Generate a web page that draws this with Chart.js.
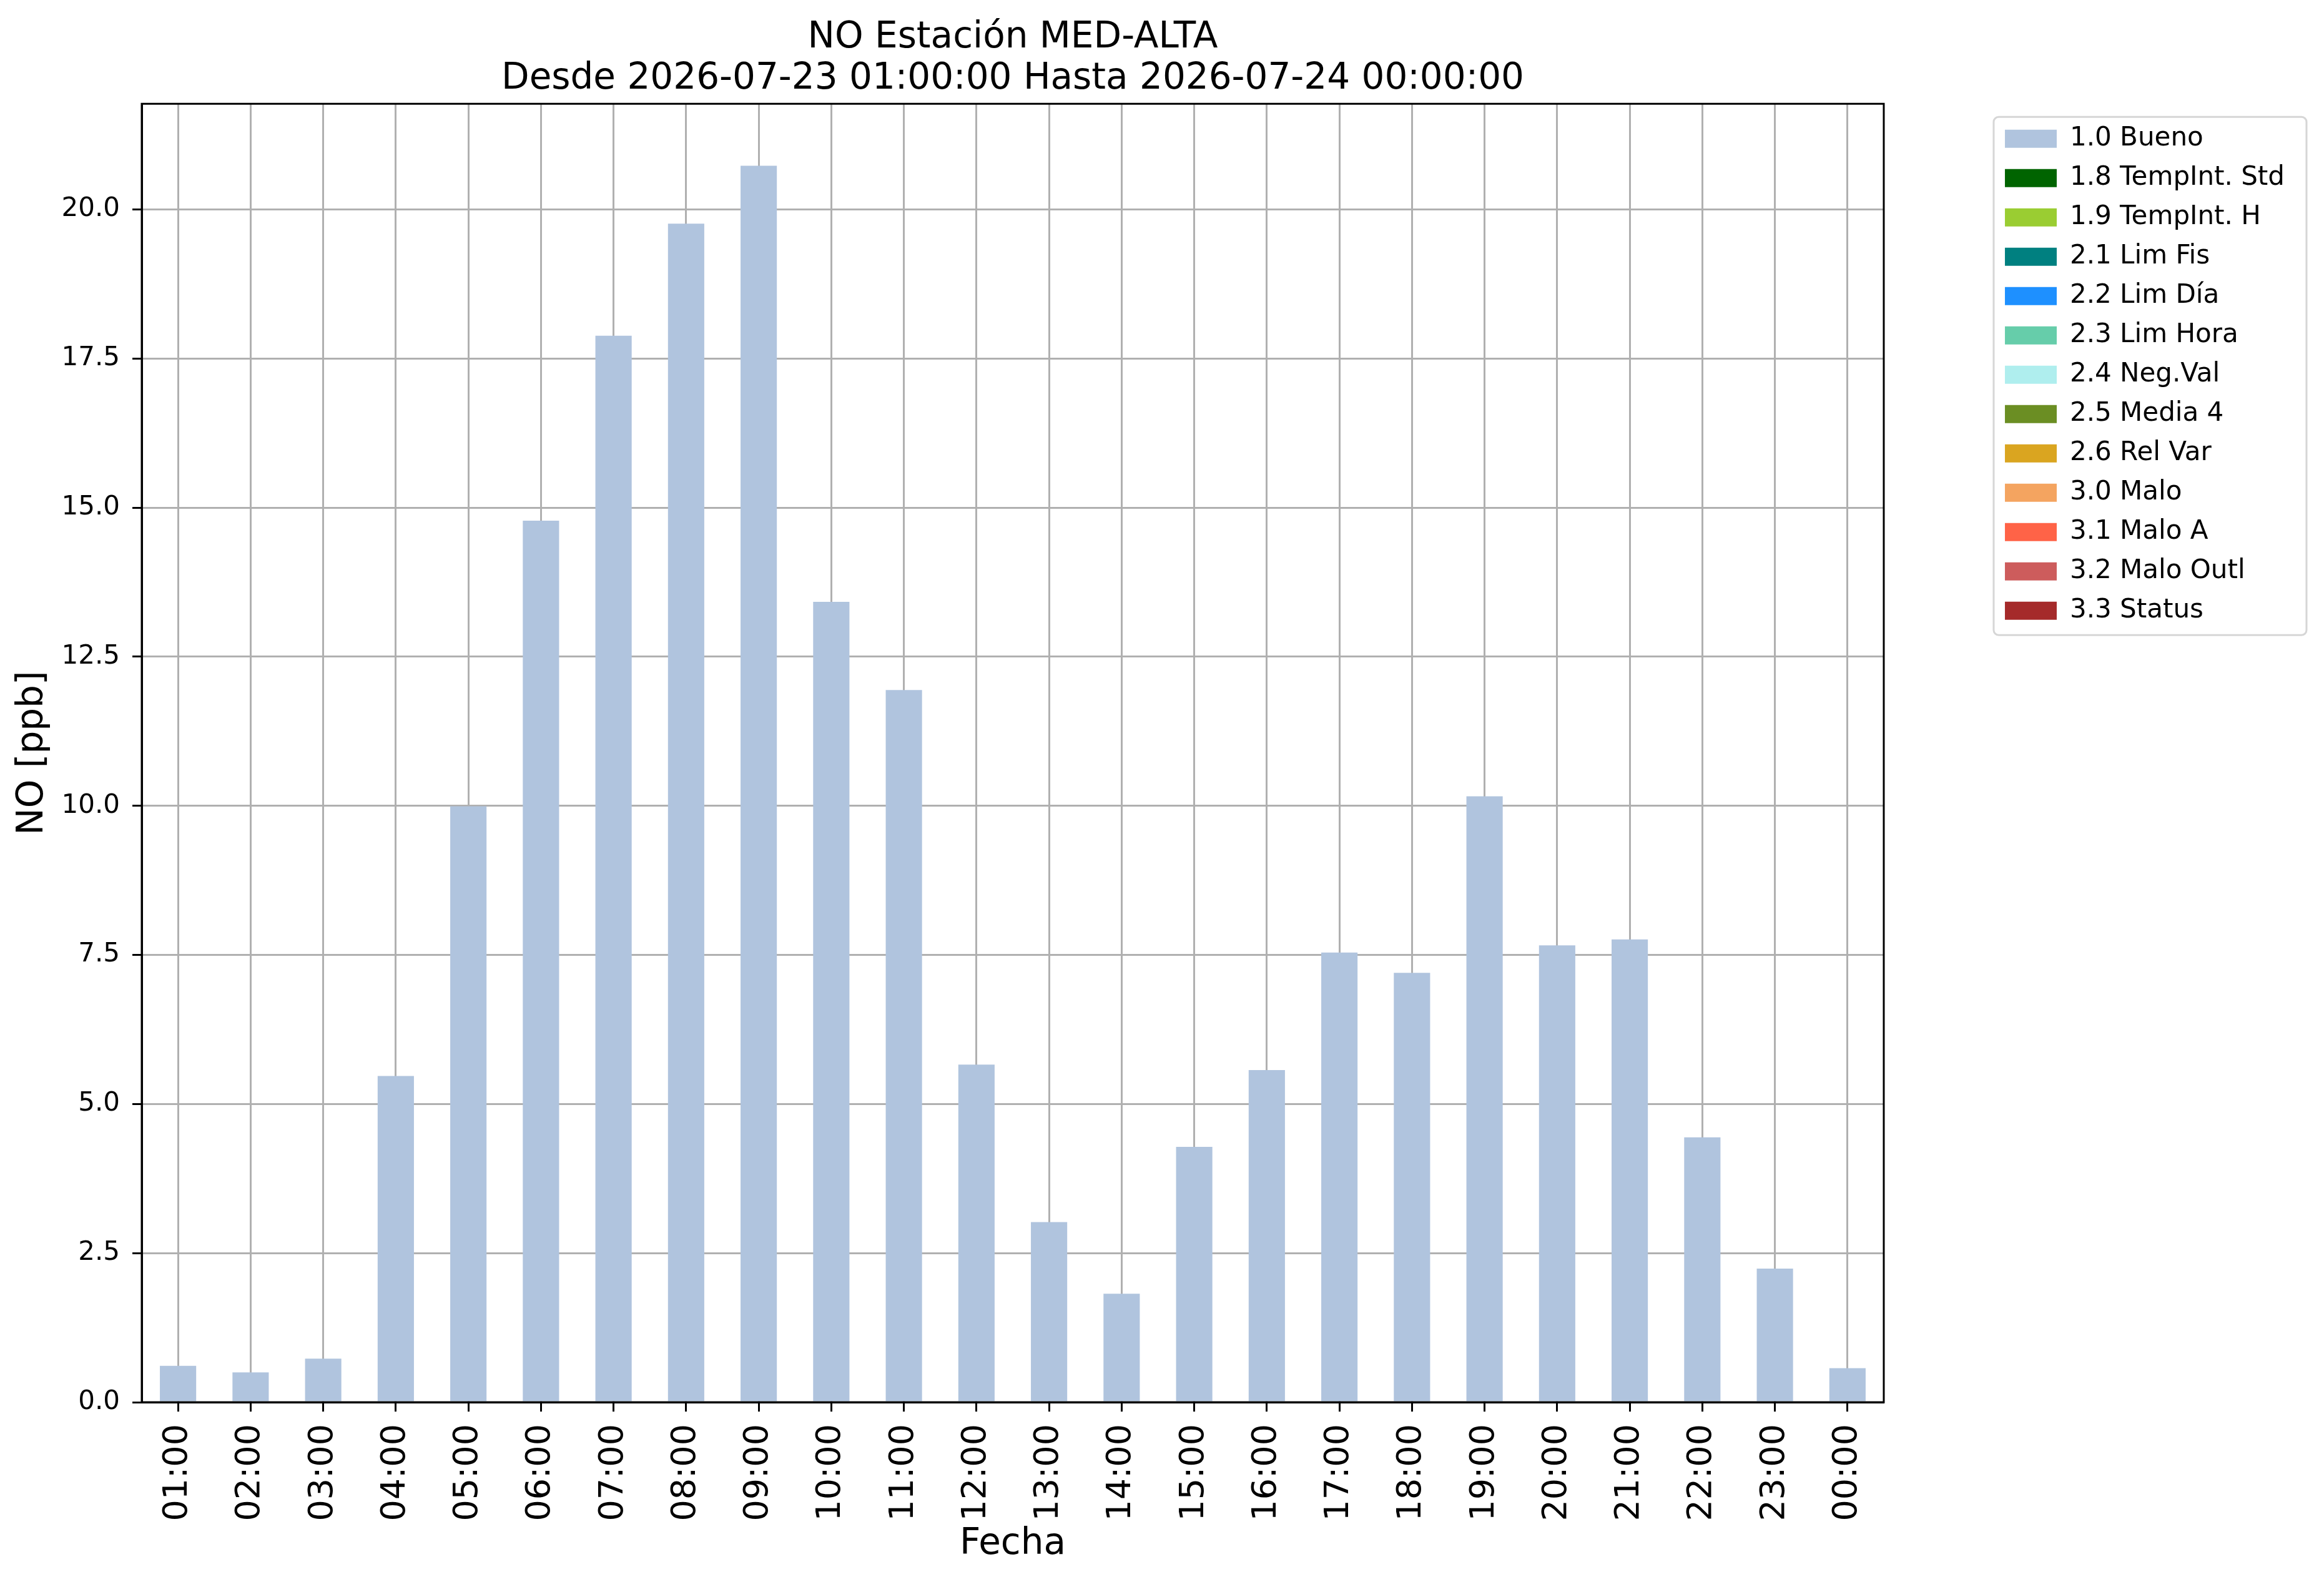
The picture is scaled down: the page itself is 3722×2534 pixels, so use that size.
<!DOCTYPE html>
<html>
<head>
<meta charset="utf-8">
<script src="https://cdn.jsdelivr.net/npm/chart.js@4.4.1/dist/chart.umd.min.js"></script>
<style>
  html, body { margin: 0; padding: 0; background: #fff; }
  canvas { display: block; }
</style>
</head>
<body>
<canvas id="grafico" width="3722" height="2534" style="width:3722px;height:2534px"></canvas>
<script>
// Datos
const horas = ['01:00', '02:00', '03:00', '04:00', '05:00', '06:00', '07:00', '08:00',
  '09:00', '10:00', '11:00', '12:00', '13:00', '14:00', '15:00', '16:00',
  '17:00', '18:00', '19:00', '20:00', '21:00', '22:00', '23:00', '00:00'];
const valoresBueno = [0.61, 0.50, 0.73, 5.47, 9.99, 14.78, 17.88, 19.76,
  20.73, 13.42, 11.94, 5.66, 3.02, 1.82, 4.28, 5.57,
  7.54, 7.20, 10.16, 7.66, 7.76, 4.44, 2.24, 0.57];
const ticksY = [0, 2.5, 5, 7.5, 10, 12.5, 15, 17.5, 20];
const limiteY = 21.77;

const etiquetasFlags = ['1.0 Bueno', '1.8 TempInt. Std', '1.9 TempInt. H', '2.1 Lim Fis',
  '2.2 Lim Día', '2.3 Lim Hora', '2.4 Neg.Val', '2.5 Media 4', '2.6 Rel Var',
  '3.0 Malo', '3.1 Malo A', '3.2 Malo Outl', '3.3 Status'];
const coloresFlags = ['#B0C4DE', '#006400', '#9ACD32', '#008080', '#1E90FF', '#66CDAA',
  '#AFEEEE', '#6B8E23', '#DAA520', '#F4A460', '#FF6347', '#CD5C5C', '#A52A2A'];

Chart.defaults.font.family = "'DejaVu Sans', sans-serif";
Chart.defaults.color = '#000';

// marco del area de trazado y de la leyenda
const marco = {
  id: 'marco',
  afterDraw(chart) {
    const { ctx, chartArea: a } = chart;
    ctx.save();
    ctx.strokeStyle = '#000';
    ctx.lineWidth = 3;
    ctx.strokeRect(a.left, a.top, a.right - a.left, a.bottom - a.top);
    const cajas = chart.legend && chart.legend.legendHitBoxes;
    if (cajas && cajas.length) {
      const x0 = cajas[0].left - 18;
      const y0 = cajas[0].top - 14;
      const ult = cajas[cajas.length - 1];
      const y1 = ult.top + ult.height / 2 + 39;
      ctx.strokeStyle = '#d6d6d6';
      ctx.beginPath();
      if (ctx.roundRect) ctx.roundRect(x0, y0, 501, y1 - y0, 8);
      else ctx.rect(x0, y0, 501, y1 - y0);
      ctx.stroke();
    }
    ctx.restore();
  }
};

const rejilla = {
  color: '#b0b0b0', lineWidth: 3, offset: false,
  drawTicks: true, tickLength: 15, tickColor: '#000', tickWidth: 3
};

const datasets = etiquetasFlags.map((nombre, i) => ({
  label: nombre,
  data: i === 0 ? valoresBueno : [],
  backgroundColor: coloresFlags[i],
  borderWidth: 0,
  categoryPercentage: 0.5,
  barPercentage: 1.0
}));

const ctx = document.getElementById('grafico').getContext('2d');
const grafico = new Chart(ctx, {
  type: 'bar',
  data: { labels: horas, datasets: datasets },
  plugins: [marco],
  options: {
    responsive: false,
    maintainAspectRatio: false,
    devicePixelRatio: 1,
    animation: false,
    events: [],
    layout: { padding: { left: 0, right: 53, top: 0, bottom: 0 } },
    plugins: {
      tooltip: { enabled: false },
      title: {
        display: true,
        fullSize: false,
        text: ['NO Estación MED-ALTA', 'Desde 2026-07-23 01:00:00 Hasta 2026-07-24 00:00:00'],
        color: '#000',
        font: { size: 58, weight: 'normal', lineHeight: 1.14 },
        padding: { top: 28, bottom: 6 }
      },
      legend: {
        display: true,
        position: 'right',
        align: 'start',
        fullSize: false,
        title: { display: true, text: '', padding: 0, font: { size: 14, lineHeight: 1 } },
        labels: {
          boxWidth: 83, boxHeight: 29, padding: 21,
          color: '#000', font: { size: 42 }
        }
      }
    },
    scales: {
      x: {
        stacked: true,
        z: 1,
        offset: true,
        grid: rejilla,
        border: { display: true, color: '#000', width: 3 },
        ticks: {
          color: '#000', font: { size: 54 },
          minRotation: 90, maxRotation: 90, autoSkip: false, padding: 20
        },
        title: {
          display: true, text: 'Fecha', color: '#000',
          font: { size: 58 }, padding: { top: 0, bottom: 25 }
        },
        afterFit: s => { s.height = 288; }
      },
      y: {
        stacked: true,
        z: 1,
        min: 0,
        max: limiteY,
        grid: rejilla,
        border: { display: true, color: '#000', width: 3 },
        ticks: {
          color: '#000', font: { size: 42 }, padding: 20,
          callback: v => Number(v).toFixed(1)
        },
        afterBuildTicks: s => { s.ticks = ticksY.map(v => ({ value: v })); },
        title: {
          display: true, text: 'NO [ppb]', color: '#000',
          font: { size: 58 }, padding: { top: 18, bottom: 0 }
        },
        afterFit: s => { s.width = 227; }
      },
      margen: {
        type: 'linear',
        position: 'right',
        display: true,
        grid: { display: false, drawTicks: false },
        border: { display: false },
        ticks: { display: false },
        afterFit: s => { s.width = 173; }
      }
    }
  }
});
</script>
</body>
</html>
